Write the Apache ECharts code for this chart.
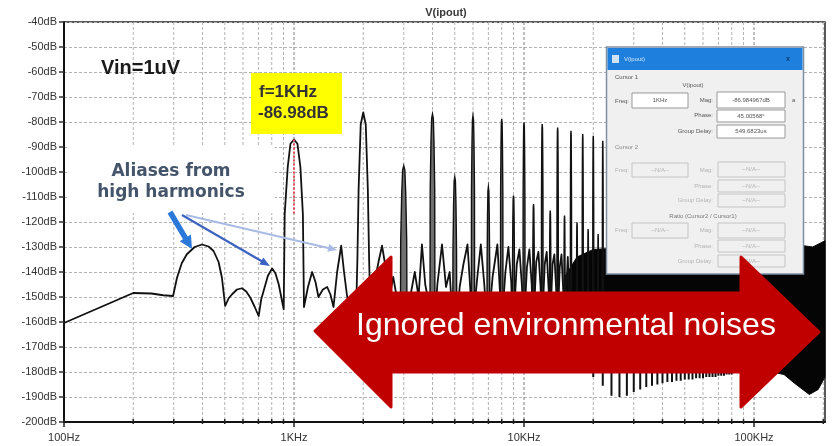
<!DOCTYPE html>
<html>
<head>
<meta charset="utf-8">
<script src="https://cdn.jsdelivr.net/npm/echarts@6/dist/echarts.min.js"></script>
<style>
html,body{margin:0;padding:0;background:#fff;}
#c{width:834px;height:446px;}
</style>
</head>
<body>
<div id="c"></div>
<script>
// FFT magnitude of V(ipout), Vin = 1 uV, 1 kHz tone

// Continuous trace: skirts, fundamental and 2nd harmonic lobes, floor between harmonics
const traceFreq = [
  100, 200, 240, 270, 298, 310, 325, 342, 370, 398, 425, 447, 470, 486, 502, 520, 538, 565, 594, 620,
  646, 675, 702, 720, 738, 770, 803, 830, 858, 880, 902, 911, 939, 965, 1000, 1035, 1066, 1093, 1105, 1150,
  1199, 1240, 1277, 1335, 1394, 1440, 1485, 1540, 1604, 1650, 1703, 1780, 1860, 1887, 1909, 1950, 2000, 2051, 2094, 2120,
  2150, 2230, 2330, 2414, 2500, 2600, 2700, 2820, 2930, 3070, 3200, 3350, 3480, 3600, 3720, 3850, 3940, 4060, 4200, 4400,
  4580, 4750, 4930, 5070, 5250, 5450, 5680, 5850, 5940, 6060, 6250, 6490, 6720, 6940, 7060, 7300, 7660, 7880, 7950, 8050,
  8300, 8550, 8800, 8950, 9050, 9300, 9550, 9800, 9950, 10050, 10300, 10550, 10800, 10950, 11050, 11300, 11550, 11800, 11950, 12050,
  12300, 12550, 12800, 12950, 13050, 13300, 13550, 13800, 13950, 14050, 14300, 14550, 14800, 14950, 15050, 15500, 15950
];
const traceDb = [
  -160.4, -148.4, -148.6, -149.3, -149.6, -142.3, -136.5, -132.9, -130, -129, -129.8, -131.6, -136, -142.3, -153.6, -150.5, -148.9, -147, -146.5, -147.8,
  -150.3, -154, -157.6, -151, -147.5, -141.5, -138.6, -140.5, -144.9, -150, -154.9, -117, -98, -88.7, -86.98, -88.7, -98, -117, -154, -146,
  -140, -144, -150, -147, -146, -149, -154, -140, -129.5, -140, -150, -152, -158, -134, -107, -81, -76.2, -81, -107, -134,
  -158, -145, -136, -129.5, -138, -150, -142, -152, -165, -165, -150, -140, -150, -129, -145, -152, -165, -165, -145, -129,
  -146, -140, -165, -165, -146, -137, -129, -148, -165, -165, -143, -129, -145, -165, -165, -142, -129, -150, -165, -165,
  -140, -130, -144, -165, -165, -137, -131, -146, -165, -165, -138, -131, -145, -165, -165, -136, -132, -146, -165, -165,
  -137, -132, -147, -165, -165, -137, -133, -147, -165, -165, -138, -133, -147, -165, -165, -134, -165
];

// Harmonic lines from 3 kHz up
const harmonicFreq = [3000, 4000, 5000, 6000, 7000, 8000, 9000, 10000, 11000, 12000,
                      13000, 14000, 15000, 16000, 17000, 18000, 19000, 20000, 21000, 22000];
const harmonicPeakDb = [-97.5, -76.8, -102, -77.5, -106, -78.8, -109.4, -80.2, -112.8, -80.8,
                        -115.4, -82.2, -117.4, -83.5, -120.1, -84.8, -122.8, -85.5, -124.8, -87.5];
const harmonicBaseDb = -165;

// Dense noise band above ~15 kHz (upper and lower envelopes)
const bandTopFreq = [15000, 17000, 20000, 30000, 60000, 100000, 150000, 180000, 203500];
const bandTopDb   = [-142, -134, -131, -130, -130, -129, -129, -130, -127.5];
const bandLowFreq = [15000, 20000, 80000, 100000, 120000, 135000, 150000, 174000, 190000, 203500];
const bandLowDb   = [-150, -176, -178, -180, -180, -181, -184.5, -189, -187, -182];

// Lower comb of lines below the band
const combFreq = [20000, 22000, 24000, 26000, 28000, 30000, 32000, 34000, 36000, 38000, 40000,
                  42000, 44000, 46000, 48000, 50000, 52000, 54000, 56000, 58000, 60000,
                  62000, 64000, 66000, 68000, 70000, 72000, 74000, 76000, 78000, 80000];
const combLowDb = [-182, -185.5, -189.5, -190, -189.5, -188, -187, -186, -185.5, -185, -184.5,
                   -184, -184, -183.5, -183.5, -183, -183, -183, -182.5, -182.5, -182.5,
                   -182, -182, -182, -182, -181.5, -181.5, -181.5, -181, -181, -181];
const combTopDb = -176;

// Cursor marker at the fundamental
const cursorFreq = 1000;
const cursorDb = [-86.98, -117];

// Axes
const xMin = 100, xMax = 203500;
const yMin = -200, yMax = -40, yStep = 10;
const xTickValues = [100, 1000, 10000, 100000];
const xTickText = ['100Hz', '1KHz', '10KHz', '100KHz'];
const gridDecades = [100, 1000, 10000, 100000];
const gridMultipliers = [1, 2, 3, 4, 5, 6, 7, 8, 9];

const gridFreq = [];
gridDecades.forEach(d => gridMultipliers.forEach(m => { if (d * m <= xMax) gridFreq.push(d * m); }));

function isDecade(f) {
  const l = Math.log10(f);
  return Math.abs(l - Math.round(l)) < 1e-6;
}

// lobe outline of one harmonic line (Hz offsets and dB below peak)
const LOBE_HZ = [-100, -90, -60, -33, 0, 33, 60, 90, 100];
const LOBE_DROP = [null, 30, 11, 1.7, 0, 1.7, 11, 30, null];

const FONT = '"Liberation Sans", Arial, sans-serif';

const chart = echarts.init(document.getElementById('c'));

function arrowShape(x1, y1, x2, y2, shaft, head, headLen) {
  const dx = x2 - x1, dy = y2 - y1, L = Math.hypot(dx, dy);
  const ux = dx / L, uy = dy / L, nx = -uy, ny = ux;
  const bx = x2 - ux * headLen, by = y2 - uy * headLen;
  return [
    [x1 + nx * shaft / 2, y1 + ny * shaft / 2],
    [bx + nx * shaft / 2, by + ny * shaft / 2],
    [bx + nx * head / 2, by + ny * head / 2],
    [x2, y2],
    [bx - nx * head / 2, by - ny * head / 2],
    [bx - nx * shaft / 2, by - ny * shaft / 2],
    [x1 - nx * shaft / 2, y1 - ny * shaft / 2]
  ];
}

function txt(text, x, y, opt) {
  opt = opt || {};
  return {
    type: 'text', x: x, y: y, z: opt.z || 100,
    style: {
      text: text,
      font: opt.font || ('6px ' + FONT),
      fill: opt.fill || '#555',
      align: opt.align || 'left', textAlign: opt.align || 'left',
      verticalAlign: 'middle', textVerticalAlign: 'middle'
    }
  };
}
function rect(x, y, w, h, fill, stroke, lw, z) {
  return { type: 'rect', z: z || 100, shape: { x: x, y: y, width: w, height: h },
           style: { fill: fill, stroke: stroke || null, lineWidth: lw || 1 } };
}

// Cursor readout window
const DIS = '#b4b4b4';
const dialog = [
  rect(606.5, 47, 197, 227, '#f0f0f0', '#7d8fa3', 1.5),
  rect(607.5, 48, 195, 22, '#1e7fdc'),
  rect(612, 55, 7, 8, '#cfe3f7', null, 1, 101),
  txt('V(ipout)', 624, 59.5, { fill: '#d6e8fb', font: '6px ' + FONT, z: 101 }),
  txt('x', 788, 59, { fill: '#0d3c73', font: 'bold 7px ' + FONT, align: 'center', z: 101 }),
  txt('Cursor 1', 615, 77),
  txt('V(ipout)', 693, 85, { align: 'center' }),
  txt('Freq:', 629, 101, { align: 'right' }),
  rect(632, 93, 56, 15, '#fff', '#999'),
  txt('1KHz', 660, 100.5, { align: 'center', z: 101 }),
  txt('Mag:', 713, 100, { align: 'right' }),
  rect(717, 92, 68, 16, '#fff', '#999'),
  txt('-86.984967dB', 751, 100, { align: 'center', z: 101 }),
  txt('a', 792, 100, {}),
  txt('Phase:', 713, 115.5, { align: 'right' }),
  rect(717, 110, 68, 12, '#fff', '#999'),
  txt('45.00568°', 751, 116, { align: 'center', z: 101 }),
  txt('Group Delay:', 713, 131, { align: 'right' }),
  rect(717, 125, 68, 13, '#fff', '#999'),
  txt('549.6823us', 751, 131.5, { align: 'center', z: 101 }),
  txt('Cursor 2', 615, 147, { fill: '#888' }),
  txt('Freq:', 629, 170, { align: 'right', fill: DIS }),
  rect(632, 163, 56, 14, '#f0f0f0', '#c4c4c4'),
  txt('--N/A--', 660, 170, { align: 'center', fill: DIS, z: 101 }),
  txt('Mag:', 713, 170, { align: 'right', fill: DIS }),
  rect(718, 162, 67, 15, '#f0f0f0', '#c4c4c4'),
  txt('--N/A--', 751, 169.5, { align: 'center', fill: DIS, z: 101 }),
  txt('Phase:', 713, 186, { align: 'right', fill: DIS }),
  rect(718, 180, 67, 12, '#f0f0f0', '#c4c4c4'),
  txt('--N/A--', 751, 186, { align: 'center', fill: DIS, z: 101 }),
  txt('Group Delay:', 713, 200.5, { align: 'right', fill: DIS }),
  rect(718, 194, 67, 13, '#f0f0f0', '#c4c4c4'),
  txt('--N/A--', 751, 200.5, { align: 'center', fill: DIS, z: 101 }),
  txt('Ratio (Cursor2 / Cursor1)', 703, 216, { align: 'center', fill: '#777' }),
  txt('Freq:', 629, 230.5, { align: 'right', fill: DIS }),
  rect(632, 223, 56, 15, '#f0f0f0', '#c4c4c4'),
  txt('--N/A--', 660, 230.5, { align: 'center', fill: DIS, z: 101 }),
  txt('Mag:', 713, 230.5, { align: 'right', fill: DIS }),
  rect(718, 223, 67, 15, '#f0f0f0', '#c4c4c4'),
  txt('--N/A--', 751, 230.5, { align: 'center', fill: DIS, z: 101 }),
  txt('Phase:', 713, 246, { align: 'right', fill: DIS }),
  rect(718, 240, 67, 12, '#f0f0f0', '#c4c4c4'),
  txt('--N/A--', 751, 246, { align: 'center', fill: DIS, z: 101 }),
  txt('Group Delay:', 713, 261, { align: 'right', fill: DIS }),
  rect(718, 255, 67, 12, '#f0f0f0', '#c4c4c4'),
  txt('--N/A--', 751, 261, { align: 'center', fill: DIS, z: 101 })
];

const annotations = [
  txt('V(ipout)', 446, 13, { font: 'bold 11px ' + FONT, fill: '#3a3a3a', align: 'center' }),
  txt('Vin=1uV', 101, 68, { font: 'bold 20px ' + FONT, fill: '#1a1a1a' }),
  rect(251, 73, 91, 61, '#ffff00', null, 1, 102),
  txt('f=1KHz', 259, 92.5, { font: 'bold 17px ' + FONT, fill: '#333', z: 103 }),
  txt('-86.98dB', 258, 113.5, { font: 'bold 17px ' + FONT, fill: '#333', z: 103 }),
  rect(68, 145, 207, 68, '#ffffff', null, 1, 102),
  txt('Aliases from', 171, 172, { font: 'bold 17px "DejaVu Sans", sans-serif', fill: '#44546a', align: 'center', z: 103 }),
  txt('high harmonics', 171, 193, { font: 'bold 17px "DejaVu Sans", sans-serif', fill: '#44546a', align: 'center', z: 103 }),
  { type: 'polygon', z: 104, shape: { points: arrowShape(186, 215, 337, 250, 2, 8, 9) }, style: { fill: '#a9bbe4' } },
  { type: 'polygon', z: 104, shape: { points: arrowShape(182, 215, 270, 266, 2.2, 8, 10) }, style: { fill: '#3d63c2' } },
  { type: 'polygon', z: 104, shape: { points: arrowShape(170, 212, 192, 249, 5.5, 13, 13) }, style: { fill: '#2a79d8' } },
  // red double-headed arrow
  { type: 'polygon', z: 110,
    shape: { points: [[315, 331], [391, 257], [391, 293], [741, 293], [741, 257], [819, 332],
                      [741, 407], [741, 372], [391, 372], [391, 407]] },
    style: { fill: '#c00000', stroke: '#c00000', lineWidth: 3, lineJoin: 'round' } },
  txt('Ignored environmental noises', 566, 326, { font: '32px ' + FONT, fill: '#ffffff', align: 'center', z: 111 })
];

const option = {
  animation: false,
  backgroundColor: '#ffffff',
  grid: { left: 64, top: 22, width: 761, height: 400, show: true, borderColor: '#222', borderWidth: 1.5, backgroundColor: 'transparent' },
  xAxis: {
    type: 'log', logBase: 10, min: xMin, max: xMax,
    axisLine: { show: true, onZero: false, lineStyle: { color: '#111', width: 2 } },
    axisTick: { show: false },
    splitLine: { show: false },
    axisLabel: {
      color: '#333', fontSize: 11, fontFamily: FONT, margin: 10,
      showMinLabel: true, showMaxLabel: false,
      formatter: function (v) {
        for (let i = 0; i < xTickValues.length; i++) {
          if (Math.abs(Math.log10(v) - Math.log10(xTickValues[i])) < 1e-6) return xTickText[i];
        }
        return '';
      }
    }
  },
  yAxis: {
    type: 'value', min: yMin, max: yMax, interval: yStep,
    axisLine: { show: true, onZero: false, lineStyle: { color: '#111', width: 2 } },
    axisTick: { show: true, length: 5, lineStyle: { color: '#333', width: 1.5 } },
    splitLine: { show: true, lineStyle: { color: '#b3b3b3', width: 1, type: [3, 2] } },
    axisLabel: { color: '#333', fontSize: 11, fontFamily: FONT, margin: 7, formatter: v => v + 'dB' }
  },
  series: [
    { // vertical log grid and bottom ticks
      type: 'custom', z: 1, silent: true, clip: false,
      data: gridFreq.map(f => [f, yMin]),
      renderItem: function (params, api) {
        const f = api.value(0);
        const top = api.coord([f, yMax]);
        const bot = api.coord([f, yMin]);
        const major = isDecade(f);
        const children = [];
        if (f > xMin) {
          children.push({ type: 'line', shape: { x1: top[0], y1: top[1], x2: bot[0], y2: bot[1] },
                          style: { stroke: major ? '#808080' : '#b3b3b3', lineWidth: 1, lineDash: [3, 2] } });
        }
        children.push({ type: 'line', shape: { x1: bot[0], y1: bot[1] - 3, x2: bot[0], y2: bot[1] + (major ? 5 : 2) },
                        style: { stroke: '#222', lineWidth: 1.5 } });
        return { type: 'group', children: children };
      }
    },
    { // dense noise band
      type: 'custom', z: 2, silent: true,
      data: [[bandTopFreq[0], bandTopDb[0]]],
      renderItem: function (params, api) {
        const pts = bandTopFreq.map((f, i) => api.coord([f, bandTopDb[i]]));
        for (let i = bandLowFreq.length - 1; i >= 0; i--) pts.push(api.coord([bandLowFreq[i], bandLowDb[i]]));
        return { type: 'polygon', shape: { points: pts }, style: { fill: '#050505', stroke: '#050505', lineWidth: 1 } };
      }
    },
    { // comb lines under the band
      type: 'custom', z: 2, silent: true,
      data: combFreq.map((f, i) => [f, combLowDb[i]]),
      renderItem: function (params, api) {
        const f = api.value(0);
        const a = api.coord([f, combTopDb]);
        const b = api.coord([f, api.value(1)]);
        return { type: 'line', shape: { x1: a[0], y1: a[1], x2: b[0], y2: b[1] }, style: { stroke: '#111', lineWidth: 2 } };
      }
    },
    { // spectrum trace
      type: 'line', z: 3, silent: true, showSymbol: false, symbol: 'none',
      data: traceFreq.map((f, i) => [f, traceDb[i]]),
      lineStyle: { color: '#111', width: 1.8, join: 'round' }
    },
    { // harmonic lines
      type: 'custom', z: 4, silent: true,
      data: harmonicFreq.map((f, i) => [f, harmonicPeakDb[i]]),
      renderItem: function (params, api) {
        const f = api.value(0), pk = api.value(1);
        const pts = LOBE_HZ.map((o, k) => api.coord([f + o, LOBE_DROP[k] === null ? harmonicBaseDb : pk - LOBE_DROP[k]]));
        return { type: 'polygon', shape: { points: pts },
                 style: { fill: '#707070', stroke: '#111', lineWidth: 1.4 } };
      }
    },
    { // cursor marker
      type: 'line', z: 5, silent: true, showSymbol: false, symbol: 'none',
      data: cursorDb.map(d => [cursorFreq, d]),
      lineStyle: { color: '#e8485a', width: 2, type: [2, 2] }
    }
  ],
  graphic: dialog.concat(annotations)
};

chart.setOption(option);
</script>
</body>
</html>
